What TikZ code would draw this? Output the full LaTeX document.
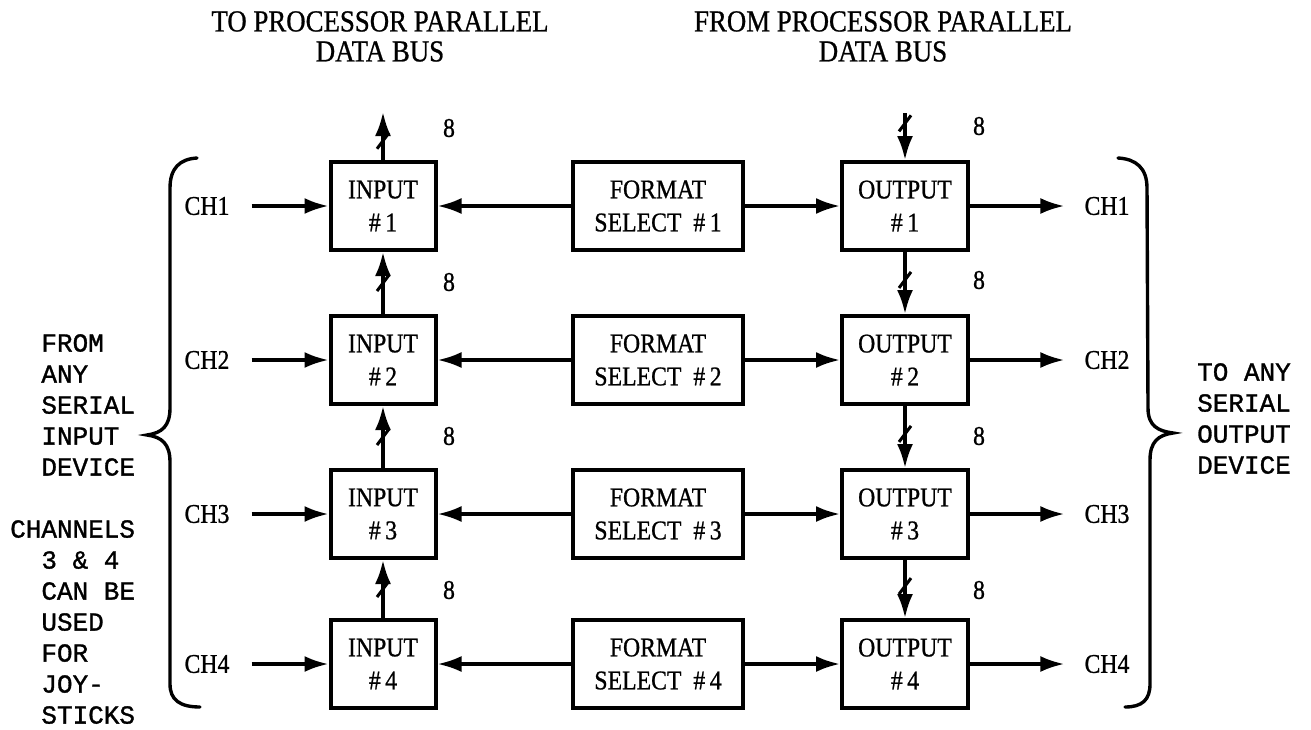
\documentclass[tikz,border=0pt]{standalone}
\usepackage{fontspec}
\setmainfont{Liberation Serif}[FakeStretch=0.88,FakeBold=0.8]
\newfontfamily\monof{Liberation Mono}[FakeBold=1.2]
\usetikzlibrary{arrows.meta,calc}
\newcommand{\bxfont}{\fontsize{27}{33}\selectfont}
\newcommand{\topfont}{\fontsize{30.5}{30}\selectfont}
\newcommand{\sidefont}{\monof\fontsize{26}{31}\selectfont}
\begin{document}
\begin{tikzpicture}[x=1pt,y=-1pt,
  conn/.style={line width=3.4pt,-{Latex[length=24pt,width=16pt]}},
  tickline/.style={line width=3pt},
  bracepath/.style={line width=3.4pt,line cap=round},
  blk/.style={draw,line width=4pt,inner sep=0pt,align=center,font=\bxfont,minimum height=88pt},
  inbox/.style={blk,minimum width=105pt},
  fmtbox/.style={blk,minimum width=170pt},
  outbox/.style={blk,minimum width=126pt},
  chlbl/.style={inner sep=0pt,font=\bxfont},
  numlbl/.style={inner sep=0pt,font=\bxfont},
  sidetext/.style={inner sep=0pt,align=left,font=\sidefont},
  toptext/.style={inner sep=0pt,align=center,font=\topfont}]
\useasboundingbox (0,0) rectangle (1311,729);

% top labels
\node[toptext,anchor=north] (toplblL) at (380,11) {TO PROCESSOR PARALLEL\\DATA BUS};
\node[toptext,anchor=north] (toplblR) at (883,11) {FROM PROCESSOR PARALLEL\\DATA BUS};

% blocks
\foreach \i/\y in {1/206,2/360,3/514,4/664}{
  \node[inbox] (in\i) at (383,\y) {INPUT\\\#\,\i};
  \node[fmtbox] (fs\i) at (658,\y) {FORMAT\\SELECT\ \ \#\,\i};
  \node[outbox] (out\i) at (905,\y) {OUTPUT\\\#\,\i};
  \node[chlbl] (chin\i) at (207,\y) {CH\i};
  \node[chlbl] (chout\i) at (1107,\y) {CH\i};
}

% bus ends
\coordinate (busin) at (383,112);
\coordinate (busout) at (905,113);

% labels 8
\node[numlbl] (ni1) at (449,128) {8};
\node[numlbl] (ni2) at (449,282) {8};
\node[numlbl] (ni3) at (449,436) {8};
\node[numlbl] (ni4) at (449,590) {8};
\node[numlbl] (no1) at (979,126) {8};
\node[numlbl] (no2) at (979,280) {8};
\node[numlbl] (no3) at (979,436) {8};
\node[numlbl] (no4) at (979,590) {8};

% input bus
\draw[conn] (in1.north) -- coordinate[pos=.4] (ti0) (busin);
\draw[conn] (in2.north) -- coordinate[pos=.5] (ti1) (in1.south);
\draw[conn] (in3.north) -- coordinate[pos=.5] (ti2) (in2.south);
\draw[conn] (in4.north) -- coordinate[pos=.5] (ti3) (in3.south);
% output bus
\draw[conn] (busout) -- coordinate[pos=.22] (to0) (out1.north);
\draw[conn] (out1.south) -- coordinate[pos=.45] (to1) (out2.north);
\draw[conn] (out2.south) -- coordinate[pos=.45] (to2) (out3.north);
\draw[conn] (out3.south) -- coordinate[pos=.45] (to3) (out4.north);

\foreach \t in {ti0,ti1,ti2,ti3,to0,to1,to2,to3}
  \draw[tickline] ([shift={(-6pt,-8pt)}]\t) -- ([shift={(6pt,8pt)}]\t);

% horizontal connectors
\foreach \i in {1,2,3,4}{
  \draw[conn,shorten <=22pt] (chin\i.east) -- (in\i.west);
  \draw[conn] (fs\i.west) -- (in\i.east);
  \draw[conn] (fs\i.east) -- (out\i.west);
  \draw[conn,shorten >=20pt] (out\i.east) -- (chout\i.west);
}

% braces
\draw[bracepath] (197,158) .. controls (180,159) and (170,168) .. (170,188)
  -- (170,408) .. controls (170,426) and (162,433) .. (147,435)
  .. controls (162,437) and (170,444) .. (170,462)
  -- (170,684) .. controls (170,700) and (180,707) .. (200,707);
\draw[bracepath] (1118,158) .. controls (1136,159) and (1147,168) .. (1147,188)
  -- (1148,408) .. controls (1148,426) and (1158,431) .. (1173,433)
  .. controls (1158,435) and (1150,442) .. (1150,460)
  -- (1150,684) .. controls (1150,700) and (1142,707) .. (1125,707);

% side texts
\node[sidetext,anchor=north west] (lefttext) at (10,334)
  {\phantom{XX}FROM\\\phantom{XX}ANY\\\phantom{XX}SERIAL\\\phantom{XX}INPUT\\\phantom{XX}DEVICE\\[31pt]
   CHANNELS\\\phantom{XX}3 \& 4\\\phantom{XX}CAN BE\\\phantom{XX}USED\\\phantom{XX}FOR\\\phantom{XX}JOY-\\\phantom{XX}STICKS};
\node[sidetext,anchor=north west] (righttext) at (1197,363)
  {TO ANY\\SERIAL\\OUTPUT\\DEVICE};
\end{tikzpicture}
\end{document}
